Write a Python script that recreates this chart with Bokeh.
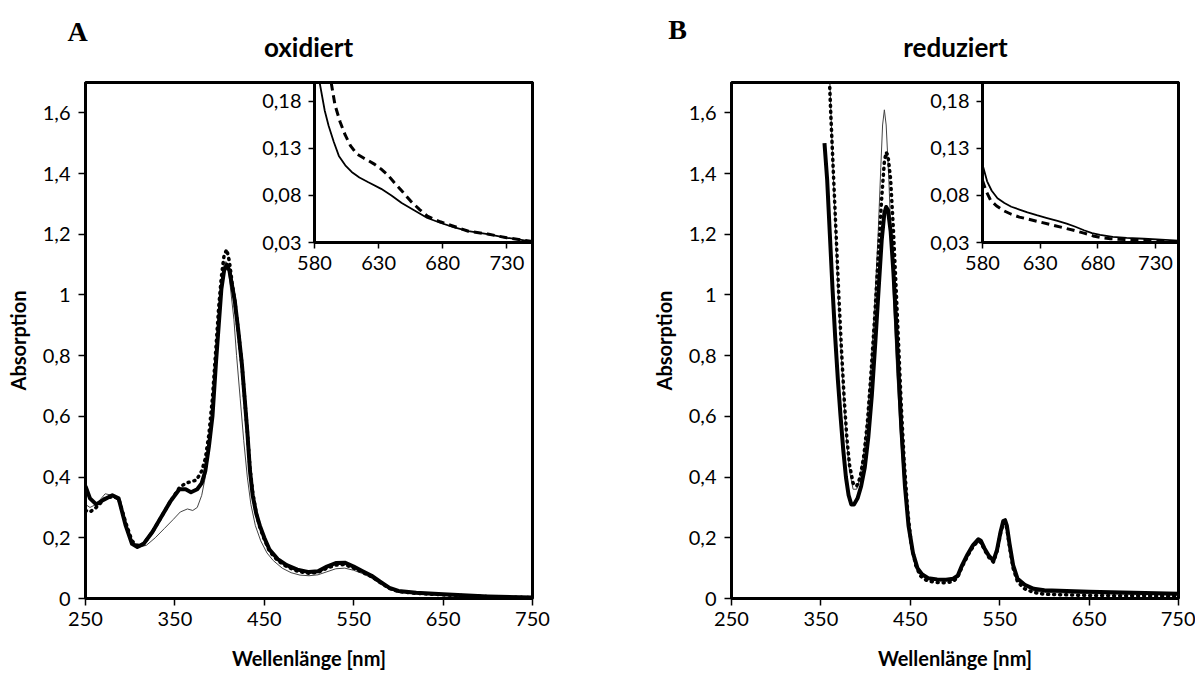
from bokeh.plotting import figure
from bokeh.models import Range1d, FixedTicker, GridBox
from bokeh.embed import file_html
from bokeh.resources import INLINE
from bokeh.core.properties import value

# ---------------- data: panel A (oxidiert) ----------------
ox_thick_nm = [250, 255, 262, 270, 280, 287, 295, 302, 308, 315, 325, 335, 345, 355, 362, 368, 375,
               380, 384, 388, 392, 396, 399, 402, 405, 408, 411, 414, 417, 421, 425, 428, 431, 434,
               437, 441, 445, 450, 456, 465, 475, 487, 500, 510, 520, 530, 540, 550, 560, 570, 580,
               590, 600, 620, 650, 700, 750]
ox_thick_abs = [0.37, 0.33, 0.31, 0.325, 0.34, 0.33, 0.24, 0.18, 0.17, 0.18, 0.22, 0.27, 0.32, 0.36,
                0.36, 0.35, 0.36, 0.38, 0.42, 0.50, 0.60, 0.78, 0.90, 1.02, 1.08, 1.10, 1.08, 1.03,
                0.98, 0.88, 0.77, 0.66, 0.55, 0.42, 0.34, 0.28, 0.24, 0.20, 0.16, 0.13, 0.11, 0.095,
                0.087, 0.09, 0.105, 0.117, 0.118, 0.105, 0.09, 0.075, 0.055, 0.035, 0.025, 0.019,
                0.014, 0.007, 0.003]

ox_thin_nm = [250, 255, 262, 272, 280, 287, 295, 302, 310, 318, 328, 338, 348, 356, 364, 370, 375,
              380, 384, 388, 392, 396, 399, 402, 405, 407, 410, 413, 416, 419, 423, 427, 431, 435,
              440, 446, 453, 460, 470, 480, 490, 500, 510, 520, 530, 540, 550, 560, 570, 580, 590,
              600, 620, 650, 700, 750]
ox_thin_abs = [0.31, 0.30, 0.31, 0.345, 0.34, 0.32, 0.24, 0.19, 0.17, 0.175, 0.20, 0.23, 0.26, 0.285,
               0.295, 0.29, 0.30, 0.34, 0.40, 0.48, 0.60, 0.78, 0.92, 1.04, 1.10, 1.11, 1.08, 1.00,
               0.92, 0.80, 0.66, 0.52, 0.40, 0.31, 0.24, 0.19, 0.15, 0.125, 0.10, 0.085, 0.077,
               0.075, 0.078, 0.088, 0.098, 0.10, 0.093, 0.082, 0.067, 0.047, 0.031, 0.021, 0.015,
               0.01, 0.005, 0.002]

ox_dot_nm = [250, 255, 262, 272, 280, 287, 295, 302, 308, 315, 325, 335, 345, 355, 362, 368, 374,
             380, 384, 388, 392, 396, 399, 402, 405, 408, 411, 414, 417, 421, 425, 428, 431, 434,
             437, 441, 445, 450, 456, 465, 475, 487, 500, 510, 520, 530, 540, 550, 560, 570, 580,
             590, 600, 620, 650, 700, 750]
ox_dot_abs = [0.29, 0.285, 0.30, 0.33, 0.335, 0.33, 0.25, 0.19, 0.175, 0.18, 0.22, 0.27, 0.32, 0.365,
              0.38, 0.385, 0.39, 0.42, 0.46, 0.54, 0.66, 0.83, 0.96, 1.06, 1.13, 1.15, 1.11, 1.04,
              0.98, 0.88, 0.77, 0.66, 0.55, 0.43, 0.35, 0.28, 0.235, 0.195, 0.155, 0.125, 0.105,
              0.09, 0.083, 0.086, 0.10, 0.11, 0.112, 0.10, 0.086, 0.072, 0.052, 0.033, 0.023,
              0.017, 0.012, 0.006, 0.003]

ox_in_solid_nm = [584, 588, 591, 595, 599, 604, 609, 615, 622, 632, 640, 648, 658, 668, 678, 689,
                  700, 715, 730, 750]
ox_in_solid_abs = [0.20, 0.17, 0.154, 0.137, 0.122, 0.112, 0.105, 0.099, 0.094, 0.087, 0.08, 0.072,
                   0.064, 0.056, 0.051, 0.046, 0.042, 0.039, 0.035, 0.031]
ox_in_dash_nm = [593, 596, 600, 604, 608, 613, 618, 622, 627, 632, 637, 642, 648, 655, 662, 668, 678,
                 689, 700, 715, 730, 750]
ox_in_dash_abs = [0.20, 0.176, 0.158, 0.144, 0.133, 0.124, 0.12, 0.117, 0.113, 0.108, 0.102, 0.094,
                  0.085, 0.074, 0.065, 0.058, 0.052, 0.047, 0.042, 0.039, 0.035, 0.031]

# ---------------- data: panel B (reduziert) ----------------
red_thick_nm = [354, 357, 360, 363, 366, 369, 372, 375, 378, 381, 384, 387, 391, 395, 399, 403, 407,
                411, 415, 418, 421, 423, 425, 428, 431, 434, 437, 440, 444, 448, 453, 458, 463, 470,
                480, 490, 498, 503, 508, 514, 520, 526, 529, 533, 538, 543, 547, 551, 554, 556, 558,
                561, 565, 570, 578, 588, 600, 650, 700, 750]
red_thick_abs = [1.50, 1.38, 1.20, 1.02, 0.86, 0.72, 0.60, 0.49, 0.40, 0.34, 0.31, 0.31, 0.33, 0.37,
                 0.43, 0.53, 0.67, 0.85, 1.04, 1.18, 1.27, 1.29, 1.28, 1.21, 1.08, 0.92, 0.74, 0.56,
                 0.37, 0.24, 0.15, 0.10, 0.08, 0.067, 0.063, 0.062, 0.065, 0.075, 0.11, 0.145, 0.175,
                 0.195, 0.19, 0.165, 0.14, 0.125, 0.16, 0.22, 0.255, 0.258, 0.24, 0.18, 0.11, 0.065,
                 0.045, 0.032, 0.027, 0.022, 0.019, 0.016]

red_thin_nm = [358, 361, 364, 367, 370, 373, 376, 379, 382, 386, 390, 394, 398, 402, 406, 410, 414,
               417, 419, 421, 423, 426, 429, 432, 435, 439, 443, 448, 454, 460, 470, 490, 503, 508,
               514, 520, 526, 533, 543, 551, 556, 561, 570, 588, 600, 650, 750]
red_thin_abs = [1.90, 1.62, 1.38, 1.16, 0.96, 0.79, 0.64, 0.51, 0.42, 0.36, 0.36, 0.40, 0.48, 0.60,
                0.76, 0.96, 1.20, 1.42, 1.56, 1.61, 1.56, 1.38, 1.15, 0.93, 0.74, 0.54, 0.37, 0.23,
                0.13, 0.085, 0.065, 0.058, 0.07, 0.105, 0.14, 0.17, 0.19, 0.16, 0.125, 0.22, 0.255,
                0.175, 0.06, 0.025, 0.02, 0.016, 0.012]

red_dot_nm = [356, 359, 361, 364, 367, 370, 373, 376, 379, 382, 386, 390, 394, 398, 402, 406, 410,
              414, 418, 421, 423, 425, 428, 431, 434, 437, 440, 443, 447, 451, 456, 461, 468, 478,
              490, 498, 503, 508, 514, 520, 526, 529, 533, 538, 543, 547, 551, 554, 556, 558, 561,
              565, 570, 578, 588, 600, 650, 700, 750]
red_dot_abs = [2.00, 1.75, 1.60, 1.40, 1.20, 1.00, 0.82, 0.66, 0.53, 0.44, 0.38, 0.37, 0.40, 0.47,
               0.58, 0.74, 0.92, 1.12, 1.32, 1.44, 1.47, 1.46, 1.38, 1.22, 1.03, 0.83, 0.63, 0.46,
               0.29, 0.18, 0.11, 0.075, 0.06, 0.053, 0.052, 0.056, 0.07, 0.105, 0.14, 0.17, 0.19,
               0.185, 0.16, 0.135, 0.12, 0.155, 0.215, 0.25, 0.25, 0.23, 0.17, 0.10, 0.055, 0.032,
               0.02, 0.014, 0.01, 0.009, 0.008]

red_in_solid_nm = [580, 584, 588, 593, 599, 605, 612, 619, 627, 636, 645, 653, 660, 668, 675, 682,
                   693, 705, 720, 735, 750]
red_in_solid_abs = [0.113, 0.095, 0.085, 0.077, 0.072, 0.068, 0.065, 0.062, 0.059, 0.056, 0.053,
                    0.05, 0.047, 0.043, 0.04, 0.038, 0.036, 0.035, 0.034, 0.033, 0.032]
red_in_dash_nm = [580, 583, 587, 592, 598, 605, 612, 619, 629, 639, 649, 659, 668, 676, 684, 691,
                  705, 720, 735, 750]
red_in_dash_abs = [0.096, 0.085, 0.075, 0.069, 0.064, 0.06, 0.057, 0.055, 0.052, 0.049, 0.046,
                   0.043, 0.04, 0.037, 0.035, 0.034, 0.033, 0.032, 0.031, 0.031]

# ---------------- ticks / texts ----------------
main_x_ticks = [250, 350, 450, 550, 650, 750]
main_y_ticks = [0, 0.2, 0.4, 0.6, 0.8, 1, 1.2, 1.4, 1.6]
main_y_labels = ["0", "0,2", "0,4", "0,6", "0,8", "1", "1,2", "1,4", "1,6"]
inset_x_ticks = [580, 630, 680, 730]
inset_y_ticks = [0.03, 0.08, 0.13, 0.18]
inset_y_labels = ["0,03", "0,08", "0,13", "0,18"]
titles = ["oxidiert", "reduziert"]
panel_letters = ["A", "B"]
x_label = "Wellenlänge [nm]"
y_label = "Absorption"

FONT = "Lato"
TICK_FS = "20px"
AXLAB_FS = "20px"
FIG_H = 672


def style_axes(p, tick_out, label_standoff, xticks, yticks, ylabels):
    p.grid.visible = False
    p.xaxis.ticker = FixedTicker(ticks=xticks)
    p.yaxis.ticker = FixedTicker(ticks=yticks)
    p.yaxis.major_label_overrides = dict(zip(yticks, ylabels))
    for ax in (p.xaxis[0], p.yaxis[0]):
        ax.axis_line_color = "black"
        ax.axis_line_width = 3
        ax.major_tick_line_color = "black"
        ax.major_tick_line_width = 1.5
        ax.major_tick_in = 0
        ax.major_tick_out = tick_out
        ax.minor_tick_line_color = None
        ax.major_label_text_font = FONT
        ax.major_label_text_font_size = TICK_FS
        ax.major_label_text_color = "black"
        ax.major_label_standoff = label_standoff
        ax.axis_label_text_font = FONT
        ax.axis_label_text_font_size = AXLAB_FS
        ax.axis_label_text_font_style = "bold"
        ax.axis_label_text_color = "black"


def main_panel(width, bl, br, thick, thin, dot):
    p = figure(width=width, height=FIG_H, x_range=Range1d(250, 750), y_range=Range1d(0, 1.7),
               output_backend="svg", toolbar_location=None,
               min_border_left=bl, min_border_right=br, min_border_top=82,
               min_border_bottom=FIG_H - 598,
               outline_line_color="black", outline_line_width=3, outline_line_alpha=1,
               background_fill_color="white", border_fill_color="white")
    p.frame_align = False
    style_axes(p, 7, 6, main_x_ticks, main_y_ticks, main_y_labels)
    p.yaxis.major_label_standoff = 8
    p.xaxis.axis_label = x_label
    p.yaxis.axis_label = y_label
    p.xaxis.axis_label_standoff = 17
    p.yaxis.axis_label_standoff = 10
    p.line(thin[0], thin[1], line_color="#444444", line_width=1)
    p.line(thick[0], thick[1], line_color="black", line_width=4, line_join="round")
    p.line(dot[0], dot[1], line_color="black", line_width=3.5, line_dash="1 5", line_cap="round")
    return p


def inset_panel(width, bl, solid, dash):
    p = figure(width=width, height=202, x_range=Range1d(580, 750), y_range=Range1d(0.03, 0.2),
               output_backend="svg", toolbar_location=None,
               min_border_left=bl, min_border_right=3, min_border_top=2, min_border_bottom=40,
               outline_line_color="black", outline_line_width=3,
               background_fill_alpha=0, border_fill_alpha=0)
    p.frame_align = False
    style_axes(p, 6, 7, inset_x_ticks, inset_y_ticks, inset_y_labels)
    p.line(solid[0], solid[1], line_color="black", line_width=1.8)
    p.line(dash[0], dash[1], line_color="black", line_width=3, line_dash="8 5")
    return p


def header(width, idx, letter_xy, title_xy):
    # pixel-based canvas over the top margin of a panel, for its letter and title
    h = figure(width=width, height=80, x_range=Range1d(0, width), y_range=Range1d(80, 0),
               x_axis_location=None, y_axis_location=None, output_backend="svg",
               toolbar_location=None, min_border=0, outline_line_color=None,
               background_fill_alpha=0, border_fill_alpha=0)
    h.frame_align = False
    h.grid.visible = False
    h.text(x=[letter_xy[0]], y=[letter_xy[1]], text=[panel_letters[idx]],
           text_font=value("Liberation Serif"), text_font_size="28px", text_font_style="bold",
           text_align="center", text_baseline="middle", text_color="black")
    h.text(x=[title_xy[0]], y=[title_xy[1]], text=[titles[idx]],
           text_font=value(FONT), text_font_size="26px", text_font_style="bold",
           text_align="center", text_baseline="middle", text_color="black")
    return h


pA = main_panel(608, 85, 76, (ox_thick_nm, ox_thick_abs), (ox_thin_nm, ox_thin_abs),
                (ox_dot_nm, ox_dot_abs))
pB = main_panel(587, 123, 17, (red_thick_nm, red_thick_abs), (red_thin_nm, red_thin_abs),
                (red_dot_nm, red_dot_abs))
iA = inset_panel(290, 69, (ox_in_solid_nm, ox_in_solid_abs), (ox_in_dash_nm, ox_in_dash_abs))
iB = inset_panel(266, 67, (red_in_solid_nm, red_in_solid_abs), (red_in_dash_nm, red_in_dash_abs))
hA = header(608, 0, (77, 31), (308, 46))
hB = header(587, 1, (69, 29), (347, 46))

grid = GridBox(
    children=[(pA, 0, 0, 3, 3), (pB, 0, 3, 3, 3), (iA, 1, 1, 1, 1), (iB, 1, 4, 1, 1),
              (hA, 0, 0, 1, 3), (hB, 0, 3, 1, 3)],
    rows=["80px", "202px", f"{FIG_H - 282}px"],
    cols=["245px", "290px", "73px", "307px", "266px", "14px"],
    spacing=0,
)

open("out.html", "w").write(file_html(grid, INLINE))
